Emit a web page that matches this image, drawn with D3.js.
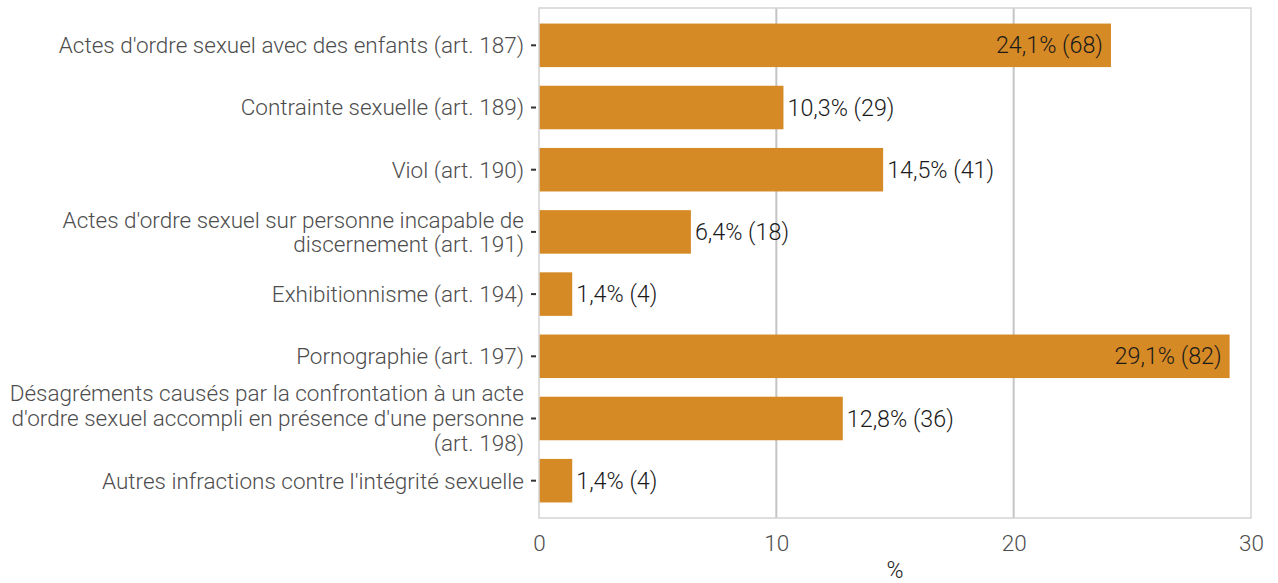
<!DOCTYPE html>
<html>
<head>
<meta charset="utf-8">
<script src="https://cdn.jsdelivr.net/npm/d3@7"></script>
<style>
  body { margin: 0; background: #fff; }
  svg text { font-family: Roboto, 'Noto Sans', sans-serif; }
</style>
</head>
<body>
<div id="chart"></div>
<script>
// categories, one array per line of the label
const categories = [
    ["Actes d'ordre sexuel avec des enfants (art. 187)"],
    ["Contrainte sexuelle (art. 189)"],
    ["Viol (art. 190)"],
    ["Actes d'ordre sexuel sur personne incapable de", "discernement (art. 191)"],
    ["Exhibitionnisme (art. 194)"],
    ["Pornographie (art. 197)"],
    ["Désagréments causés par la confrontation à un acte", "d'ordre sexuel accompli en présence d'une personne", "(art. 198)"],
    ["Autres infractions contre l'intégrité sexuelle"]
]
const percents = [24.1, 10.3, 14.5, 6.4, 1.4, 29.1, 12.8, 1.4]
const counts = [68, 29, 41, 18, 4, 82, 36, 4]
const xTicks = [0, 10, 20, 30]
const xTitle = '%'

const W = 1278, H = 583
const margin = { top: 8, right: 27, bottom: 65, left: 539 }
const width = W - margin.left - margin.right
const height = H - margin.top - margin.bottom
const fontSize = 22.5

const fmt = v => String(v).replace('.', ',')

const svg = d3.select('#chart')
    .append('svg')
        .attr('width', W)
        .attr('height', H)

const canvas = svg.append('g')
    .attr('transform', `translate(${margin.left}, ${margin.top})`)

const x = d3.scaleLinear()
    .domain([0, 30])
    .range([0, width])

const y = d3.scaleBand()
    .domain(d3.range(categories.length))
    .range([0, height])
    .paddingInner(0.3)
    .paddingOuter(0.25)

// vertical grid
canvas.append('g')
    .selectAll('line')
    .data(xTicks.slice(1, -1))
    .enter()
    .append('line')
        .attr('x1', d => x(d))
        .attr('x2', d => x(d))
        .attr('y1', 0)
        .attr('y2', height)
        .attr('stroke', '#c4c4c4')
        .attr('stroke-width', 2)

// bars
canvas.selectAll('rect.bar')
    .data(percents)
    .enter()
    .append('rect')
        .attr('class', 'bar')
        .attr('x', x(0))
        .attr('y', (d, i) => y(i))
        .attr('width', d => x(d) - x(0))
        .attr('height', y.bandwidth())
        .attr('fill', '#d68a26')

// value labels
canvas.selectAll('text.val')
    .data(percents)
    .enter()
    .append('text')
        .attr('class', 'val')
        .attr('x', d => d > 20 ? x(d) - 8 : x(d) + 4)
        .attr('y', (d, i) => y(i) + y.bandwidth() / 2)
        .attr('dy', '0.35em')
        .attr('text-anchor', d => d > 20 ? 'end' : 'start')
        .attr('font-size', 23.3)
        .attr('font-weight', 300)
        .attr('fill', '#1a1a1a')
        .text((d, i) => `${fmt(d)}% (${counts[i]})`)

// panel border
canvas.append('rect')
    .attr('x', 0)
    .attr('y', 0)
    .attr('width', width)
    .attr('height', height)
    .attr('fill', 'none')
    .attr('stroke', '#d4d4d4')
    .attr('stroke-width', 1.5)

// y axis
const yAxis = canvas.append('g')
    .call(d3.axisLeft(y).tickSize(5).tickPadding(7).tickFormat(''))
yAxis.select('.domain').remove()
yAxis.selectAll('.tick line')
    .attr('stroke', '#333')
    .attr('stroke-width', 2)
    .attr('transform', 'translate(-3, 0)')

const yLabels = canvas.append('g')
categories.forEach((lines, i) => {
    const cy = y(i) + y.bandwidth() / 2
    const lh = lines.length > 2 ? 25 : 24
    const t = yLabels.append('text')
        .attr('x', -15)
        .attr('y', cy - (lines.length - 1) * lh / 2)
        .attr('text-anchor', 'end')
        .attr('font-size', fontSize)
        .attr('font-weight', 300)
        .attr('fill', '#4d4d4d')
    lines.forEach((line, j) => {
        t.append('tspan')
            .attr('x', -15)
            .attr('dy', j === 0 ? '0.35em' : lh)
            .text(line)
    })
})

// x axis
const xAxis = canvas.append('g')
    .attr('transform', `translate(0, ${height})`)
    .call(d3.axisBottom(x).tickValues(xTicks).tickSize(0).tickPadding(17))
xAxis.select('.domain').remove()
xAxis.selectAll('text')
    .attr('font-size', fontSize)
    .attr('font-weight', 300)
    .attr('fill', '#4d4d4d')

canvas.append('text')
    .attr('x', width / 2)
    .attr('y', H - margin.top - 5)
    .attr('text-anchor', 'middle')
    .attr('font-size', 23)
    .attr('font-weight', 300)
    .attr('fill', '#1a1a1a')
    .text(xTitle)
</script>
</body>
</html>
